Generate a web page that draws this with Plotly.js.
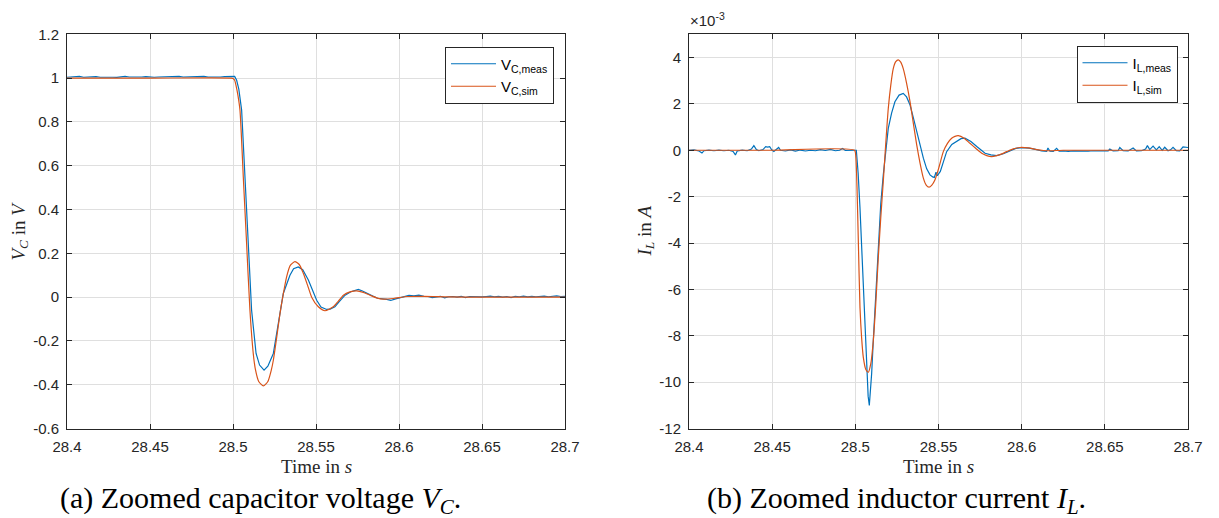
<!DOCTYPE html>
<html>
<head>
<meta charset="utf-8">
<script src="https://cdn.plot.ly/plotly-3.0.1.min.js"></script>
<style>html,body{margin:0;padding:0;background:#fff;}#chart{width:1219px;height:518px;}</style>
</head>
<body>
<div id="chart"></div>
<script>
// ---------- (a) capacitor voltage V_C in V ----------
var vcMeasT = [28.4,28.4025,28.405,28.4075,28.41,28.4125,28.415,28.4175,28.42,28.4225,28.425,28.4275,28.43,28.4325,28.435,28.4375,28.44,28.4425,28.445,28.4475,28.45,28.4525,28.455,28.4575,28.46,28.4625,28.465,28.4675,28.47,28.4725,28.475,28.4775,28.48,28.4825,28.485,28.4875,28.49,28.4925,28.495,28.4975,28.5,
  28.501,28.5022,28.5035,28.5052,28.5072,28.5092,28.5112,28.5139,28.516,28.5187,28.521,28.5243,28.527,28.5303,28.5343,28.5365,28.5393,28.542,28.5454,28.548,28.5504,28.553,28.5564,28.5585,28.5614,28.564,28.5675,28.571,28.5755,28.578,28.5835,28.587,28.5926,28.595,28.598,28.602,28.606,28.609,28.612,28.615,
  28.6175,28.62,28.6225,28.625,28.6275,28.63,28.6325,28.635,28.6375,28.64,28.6425,28.645,28.6475,28.65,28.6525,28.655,28.6575,28.66,28.6625,28.665,28.6675,28.67,28.6725,28.675,28.6775,28.68,28.6825,28.685,28.6875,28.69,28.6925,28.695,28.6975,28.7];
var vcMeas = [1.004,1.006,1.005,1.008,1.004,1.006,1.005,1.007,1.004,1.005,1.006,1.004,1.003,1.006,1.008,1.005,1.004,1.006,1.005,1.007,1.005,1.004,1.005,1.006,1.004,1.005,1.007,1.008,1.005,1.006,1.004,1.005,1.006,1.008,1.005,1.004,1.006,1.005,1.007,1.006,1.008,
  1.008,0.99,0.95,0.854,0.549,0.245,-0.059,-0.257,-0.31,-0.333,-0.315,-0.257,-0.14,0.017,0.1,0.13,0.138,0.125,0.078,0.03,-0.014,-0.045,-0.056,-0.055,-0.044,-0.02,0.009,0.025,0.035,0.028,0.009,-0.005,-0.01,-0.015,-0.008,0.0,0.008,0.006,0.009,0.004,
  0.003,-0.002,0.0,0.004,-0.003,0.002,0.003,0.0,0.004,-0.002,0.003,0.002,0.004,0.001,0.003,0.005,0.002,0.004,0.0,0.003,-0.002,0.004,0.002,0.005,0.001,0.004,0.002,0.003,0.005,0.002,0.004,0.006,0.003,0.004];

var vcSimT = [28.4,28.45,28.499,28.5,28.501,28.502,28.503,28.5042,28.5062,28.5082,28.5102,28.5122,28.5135,28.5155,28.5183,28.521,28.523,28.5243,28.5263,28.5283,28.5303,28.5323,28.5345,28.5373,28.540,28.5424,28.5449,28.5474,28.5514,28.5554,28.5604,28.5635,28.5665,28.5705,28.5745,28.5785,28.5825,28.5865,28.5906,28.5966,28.605,28.615,28.63,28.65,28.7];
var vcSim  = [1,1,1,0.998,0.99,0.96,0.92,0.854,0.549,0.245,-0.059,-0.257,-0.33,-0.385,-0.405,-0.385,-0.335,-0.288,-0.185,-0.075,0.015,0.093,0.145,0.162,0.148,0.108,0.055,0.0,-0.044,-0.062,-0.044,-0.018,0.009,0.024,0.029,0.022,0.009,-0.003,-0.009,-0.006,0.003,0.004,0.001,0,0];

// ---------- (b) inductor current I_L in units of 10^-3 A ----------
var ilMeasT = [28.4,28.403,28.406,28.4078,28.409,28.412,28.415,28.418,28.421,28.424,28.4265,28.4279,28.429,28.432,28.435,28.4375,28.439,28.4405,28.442,28.4445,28.4461,28.4473,28.4485,28.4497,28.451,28.4525,28.4539,28.455,28.458,28.461,28.464,28.467,28.47,28.473,28.476,28.479,28.482,28.485,28.488,28.4905,28.4923,28.494,28.497,28.5,28.5006,
  28.5017,28.5028,28.5038,28.5048,28.5058,28.5068,28.5077,28.5084,28.509,28.5098,28.5108,28.5118,28.5128,28.5138,28.5153,28.5168,28.5183,28.5198,28.5218,28.5238,28.5263,28.5288,28.5308,28.5329,28.5349,28.5369,28.5389,28.5409,28.5429,28.5449,28.5465,28.5475,28.5485,28.5493,28.5511,28.553,28.5549,28.558,28.561,28.5635,28.5659,28.5695,28.573,28.578,28.5815,28.585,28.589,28.593,28.5965,28.6,28.6045,28.609,28.612,28.615,28.6158,28.617,28.619,28.621,28.6225,28.625,28.628,28.631,28.634,28.637,28.64,28.643,28.646,28.649,28.652,28.653,28.655,28.658,28.659,28.661,28.664,28.667,28.669,28.672,28.6745,28.6756,28.677,28.679,28.681,28.6827,28.6845,28.686,28.688,28.6895,28.691,28.693,28.695,28.697,28.6985,28.7];
var ilMeas = [0,0.02,-0.03,-0.12,-0.02,0.01,-0.02,0.01,-0.02,0.0,-0.05,-0.2,-0.03,0.01,-0.02,0.05,0.2,0.03,-0.02,0.03,0.16,0.14,0.16,0.02,-0.05,0.02,0.12,0.0,-0.03,0.02,-0.04,0.01,-0.03,0.0,-0.02,0.03,-0.01,0.04,-0.02,0.0,0.08,-0.01,0.01,0.0,0.0,
  -1.0,-2.49,-4.3,-6.06,-7.9,-9.64,-10.6,-11.0,-10.5,-9.64,-8.2,-6.78,-5.3,-3.92,-2.3,-1.06,0.0,0.94,1.6,2.09,2.38,2.45,2.3,1.95,1.4,0.8,0.2,-0.34,-0.8,-1.06,-1.15,-1.17,-0.95,-1.1,-0.91,-0.5,-0.06,0.25,0.4,0.5,0.52,0.38,0.16,-0.13,-0.2,-0.23,-0.15,-0.03,0.08,0.11,0.09,0.03,-0.03,-0.05,0.1,-0.04,-0.05,0.08,-0.04,-0.03,-0.05,-0.03,-0.04,-0.02,-0.04,-0.02,-0.03,-0.02,-0.03,0.05,-0.03,-0.02,0.12,-0.02,-0.03,0.1,-0.03,-0.02,0.05,0.2,0.03,0.18,0.02,0.16,0.0,0.13,-0.02,0.02,0.13,-0.02,-0.03,0.15,0.14,0.12];

var ilSimT = [28.4,28.45,28.4995,28.5003,28.501,28.5018,28.5028,28.5038,28.5048,28.5063,28.5078,28.5093,28.5108,28.5123,28.5138,28.5153,28.5168,28.5183,28.5198,28.5213,28.5228,28.5243,28.5258,28.5273,28.5288,28.5308,28.5329,28.5349,28.5369,28.5389,28.5409,28.5426,28.5443,28.546,28.5479,28.5504,28.5529,28.5554,28.5579,28.5599,28.5619,28.5654,28.5689,28.5725,28.576,28.579,28.582,28.5865,28.591,28.595,28.599,28.604,28.609,28.613,28.617,28.625,28.64,28.7];
var ilSim  = [0,0,0,-0.3,-1.6,-3.92,-6.78,-8.1,-8.93,-9.45,-9.57,-9.2,-8.21,-6.6,-4.63,-2.9,-1.34,0.3,1.8,2.8,3.52,3.82,3.9,3.8,3.52,2.9,2.09,1.15,0.23,-0.55,-1.2,-1.5,-1.59,-1.5,-1.27,-0.7,-0.06,0.3,0.52,0.6,0.63,0.52,0.3,0.08,-0.13,-0.23,-0.27,-0.2,-0.06,0.06,0.12,0.1,0.03,-0.01,-0.02,0,0,0];

// ---------- ticks and labels ----------
var xTickVals = [28.4,28.45,28.5,28.55,28.6,28.65,28.7];
var xTickText = ["28.4","28.45","28.5","28.55","28.6","28.65","28.7"];
var vcTickVals = [-0.6,-0.4,-0.2,0,0.2,0.4,0.6,0.8,1,1.2];
var vcTickText = ["-0.6","-0.4","-0.2","0","0.2","0.4","0.6","0.8","1","1.2"];
var ilTickVals = [-12,-10,-8,-6,-4,-2,0,2,4];
var ilTickText = ["-12","-10","-8","-6","-4","-2","0","2","4"];

var blue = '#0072BD', orange = '#D95319', axCol = '#262626';
var W = 1219, H = 518;
function px(x){return x/W;}
function py(y){return 1 - y/H;}

var traces = [
  {x: vcMeasT, y: vcMeas, type:'scatter', mode:'lines', name:'V<sub>C,meas</sub>', line:{color:blue,width:1.2}, xaxis:'x', yaxis:'y', legend:'legend'},
  {x: vcSimT, y: vcSim, type:'scatter', mode:'lines', name:'V<sub>C,sim</sub>', line:{color:orange,width:1.2,shape:'spline',smoothing:0.6}, xaxis:'x', yaxis:'y', legend:'legend'},
  {x: ilMeasT, y: ilMeas, type:'scatter', mode:'lines', name:'I<sub>L,meas</sub>', line:{color:blue,width:1.2}, xaxis:'x2', yaxis:'y2', legend:'legend2'},
  {x: ilSimT, y: ilSim, type:'scatter', mode:'lines', name:'I<sub>L,sim</sub>', line:{color:orange,width:1.2,shape:'spline',smoothing:0.6}, xaxis:'x2', yaxis:'y2', legend:'legend2'}
];

var tickFont = {family:'Liberation Sans, Arial, sans-serif', size:15, color:axCol};
function xax(dom, anchor){
  return {domain:dom, anchor:anchor, range:[28.4,28.7], tickvals:xTickVals, ticktext:xTickText,
    ticks:'inside', ticklen:5, tickcolor:axCol, showline:true, linecolor:axCol, linewidth:1, mirror:'ticks',
    showgrid:true, gridcolor:'#dfdfdf', gridwidth:1, zeroline:false, tickfont:tickFont, ticklabelstandoff:4, fixedrange:true};
}
function yax(dom, anchor, range, vals, text){
  return {domain:dom, anchor:anchor, range:range, tickvals:vals, ticktext:text,
    ticks:'inside', ticklen:5, tickcolor:axCol, showline:true, linecolor:axCol, linewidth:1, mirror:'ticks',
    showgrid:true, gridcolor:'#dfdfdf', gridwidth:1, zeroline:false, tickfont:tickFont, ticklabelstandoff:4, fixedrange:true};
}
var yDom = [py(428.6), py(34.3)];
var serif = {family:'Liberation Serif, Times New Roman, serif', size:19, color:axCol};
var capFont = {family:'Liberation Serif, Times New Roman, serif', size:30, color:'#000'};

var layout = {
  width:W, height:H, margin:{l:0,r:0,t:0,b:0}, paper_bgcolor:'#fff', plot_bgcolor:'#fff',
  showlegend:true,
  xaxis: xax([px(67), px(565)], 'y'),
  yaxis: yax(yDom, 'x', [-0.6,1.2], vcTickVals, vcTickText),
  xaxis2: xax([px(689), px(1188)], 'y2'),
  yaxis2: yax(yDom, 'x2', [-12,5], ilTickVals, ilTickText),
  legend: {x:px(445), y:py(46.5), xanchor:'left', yanchor:'top', bgcolor:'#fff', bordercolor:axCol, borderwidth:1,
    font:{family:'Liberation Sans, Arial, sans-serif', size:15, color:'#000'}, itemwidth:45, tracegroupgap:0},
  legend2: {x:px(1076.5), y:py(45.5), xanchor:'left', yanchor:'top', bgcolor:'#fff', bordercolor:axCol, borderwidth:1,
    font:{family:'Liberation Sans, Arial, sans-serif', size:15, color:'#000'}, itemwidth:45, tracegroupgap:0},
  annotations: [
    {text:'Time in <i>s</i>', x:px(316), y:py(466.5), xref:'paper', yref:'paper', xanchor:'center', yanchor:'middle', showarrow:false, font:serif},
    {text:'Time in <i>s</i>', x:px(938.5), y:py(466.5), xref:'paper', yref:'paper', xanchor:'center', yanchor:'middle', showarrow:false, font:serif},
    {text:'<i>V<sub>C</sub></i> in <i>V</i>', x:px(19), y:py(231.5), xref:'paper', yref:'paper', xanchor:'center', yanchor:'middle', textangle:-90, showarrow:false, font:serif},
    {text:'<i>I<sub>L</sub></i> in <i>A</i>', x:px(645), y:py(231.5), xref:'paper', yref:'paper', xanchor:'center', yanchor:'middle', textangle:-90, showarrow:false, font:serif},
    {text:'×10<sup>-3</sup>', x:px(688), y:py(31), xref:'paper', yref:'paper', xanchor:'left', yanchor:'bottom', showarrow:false, font:{family:'Liberation Sans, Arial, sans-serif', size:15, color:axCol}},
    {text:'(a) Zoomed capacitor voltage <i>V<sub>C</sub></i>.', x:px(260), y:py(500), xref:'paper', yref:'paper', xanchor:'center', yanchor:'middle', showarrow:false, font:capFont},
    {text:'(b) Zoomed inductor current <i>I<sub>L</sub></i>.', x:px(896), y:py(500), xref:'paper', yref:'paper', xanchor:'center', yanchor:'middle', showarrow:false, font:capFont}
  ]
};

Plotly.newPlot('chart', traces, layout, {displayModeBar:false, staticPlot:true});
</script>
</body>
</html>
